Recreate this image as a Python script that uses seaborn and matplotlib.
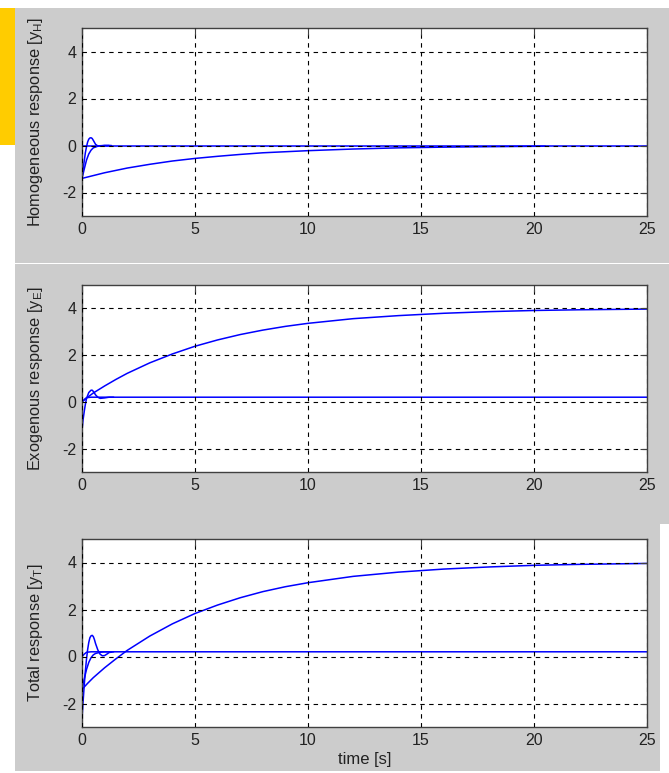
import matplotlib
matplotlib.use("Agg")
import matplotlib.pyplot as plt
from matplotlib.patches import Rectangle
import pandas as pd
import seaborn as sns

# homogeneous response curves
hom_fast_t = [0, 0.05, 0.1, 0.15, 0.2, 0.25, 0.3, 0.35, 0.4, 0.45, 0.5, 0.6, 0.7, 0.8, 1.0, 1.2]
hom_fast_y = [-1.4, -1.0, -0.65, -0.3, -0.05, 0.15, 0.27, 0.32, 0.33, 0.3, 0.22, 0.05, -0.02, -0.01, 0.0, 0.0]
hom_mid_t = [0, 0.1, 0.2, 0.3, 0.4, 0.5, 0.7, 1.0, 1.3]
hom_mid_y = [-1.4, -1.0, -0.62, -0.36, -0.2, -0.1, -0.03, 0.0, 0.0]
hom_slow_t = [0, 1, 2, 3, 4, 5, 6, 7, 8, 10, 12, 14, 16, 18, 20.5]
hom_slow_y = [-1.40, -1.16, -0.96, -0.80, -0.66, -0.55, -0.46, -0.38, -0.31, -0.22, -0.15, -0.10, -0.07, -0.05, -0.03]
hom_zero_t = [0, 25]
hom_zero_y = [0.0, 0.0]

# exogenous response curves
exo_flat_t = [0, 0.1, 0.2, 0.4, 25]
exo_flat_y = [0.0, 0.1, 0.18, 0.2, 0.2]
exo_fast_t = [0, 0.05, 0.1, 0.15, 0.2, 0.3, 0.4, 0.45, 0.5, 0.6, 0.7, 0.8, 1.0, 1.2, 1.4]
exo_fast_y = [-1.2, -0.75, -0.4, -0.1, 0.15, 0.4, 0.5, 0.5, 0.45, 0.3, 0.2, 0.15, 0.17, 0.2, 0.2]
exo_slow_t = [0, 0.25, 0.5, 1, 1.5, 2, 3, 4, 5, 6, 7, 8, 9, 10, 12, 14, 16, 18, 20, 22, 25]
exo_slow_y = [0.0, 0.2, 0.38, 0.68, 0.96, 1.22, 1.67, 2.05, 2.38, 2.65, 2.88, 3.07, 3.23, 3.36,
              3.56, 3.69, 3.79, 3.86, 3.91, 3.94, 3.97]

# total response curves
tot_fast_t = [0, 0.05, 0.1, 0.15, 0.2, 0.25, 0.3, 0.35, 0.4, 0.45, 0.5, 0.55, 0.6, 0.7, 0.8, 0.9, 1.0, 1.1, 1.2, 1.4]
tot_fast_y = [-2.65, -1.9, -1.2, -0.6, -0.1, 0.3, 0.6, 0.8, 0.88, 0.9, 0.85, 0.72, 0.55, 0.28, 0.1,
              0.03, 0.04, 0.1, 0.17, 0.2]
tot_mid_t = [0, 0.1, 0.2, 0.3, 0.4, 0.5, 0.6, 0.8, 1.0, 1.3]
tot_mid_y = [-1.4, -0.95, -0.55, -0.25, -0.05, 0.07, 0.13, 0.18, 0.2, 0.2]
tot_flat_t = [0, 0.1, 0.2, 0.4, 25]
tot_flat_y = [0.0, 0.1, 0.18, 0.2, 0.2]
tot_slow_t = [0, 0.25, 0.5, 1, 1.5, 2, 3, 4, 5, 6, 7, 8, 9, 10, 12, 14, 16, 18, 20, 22, 25]
tot_slow_y = [-1.4, -1.14, -0.90, -0.48, -0.10, 0.26, 0.87, 1.39, 1.83, 2.19, 2.50, 2.76, 2.97, 3.14,
              3.41, 3.59, 3.72, 3.81, 3.88, 3.92, 3.96]

x_ticks = [0, 5, 10, 15, 20, 25]
y_ticks = [-2, 0, 2, 4]
y_labels = [r"Homogeneous response [y$_\mathregular{H}$]",
            r"Exogenous response [y$_\mathregular{E}$]",
            r"Total response [y$_\mathregular{T}$]"]


def to_frame(curves):
    rows = []
    for i, (t, y) in enumerate(curves):
        for a, b in zip(t, y):
            rows.append({"t": a, "y": b, "curve": i})
    return pd.DataFrame(rows)


panels = [
    to_frame([(hom_zero_t, hom_zero_y), (hom_slow_t, hom_slow_y), (hom_mid_t, hom_mid_y), (hom_fast_t, hom_fast_y)]),
    to_frame([(exo_flat_t, exo_flat_y), (exo_slow_t, exo_slow_y), (exo_fast_t, exo_fast_y)]),
    to_frame([(tot_flat_t, tot_flat_y), (tot_slow_t, tot_slow_y), (tot_mid_t, tot_mid_y), (tot_fast_t, tot_fast_y)]),
]

sns.set_style("white")
plt.rcParams["font.family"] = ["Liberation Sans", "DejaVu Sans"]
plt.rcParams["font.size"] = 11
plt.rcParams["axes.unicode_minus"] = False

W, H = 669, 773
fig = plt.figure(figsize=(W / 100, H / 100), dpi=100)
fig.patch.set_facecolor("white")


def px_rect(x0, y0, x1, y1, color):
    fig.add_artist(Rectangle((x0 / W, 1 - y1 / H), (x1 - x0) / W, (y1 - y0) / H,
                             transform=fig.transFigure, facecolor=color, edgecolor="none", zorder=-10))


# gray window backgrounds and the yellow marker strip
px_rect(15, 8, 669, 263, "#cccccc")
px_rect(15, 264, 669, 524, "#cccccc")
px_rect(15, 524, 660, 771, "#cccccc")
px_rect(0, 8, 15, 145, "#ffcc00")

# axes boxes in pixels: (top, bottom)
boxes = [(28, 216), (285, 472), (539, 727)]
left, right = 82, 647

for i, (df, (top, bottom)) in enumerate(zip(panels, boxes)):
    ax = fig.add_axes([left / W, 1 - bottom / H, (right - left) / W, (bottom - top) / H])
    ax.set_facecolor("white")
    sns.lineplot(data=df, x="t", y="y", units="curve", estimator=None, sort=False,
                 color="#0000ff", linewidth=1.1, ax=ax, legend=False)
    ax.set_xlim(0, 25)
    ax.set_ylim(-3, 5)
    ax.set_xticks(x_ticks)
    ax.set_yticks(y_ticks)
    ax.grid(True, color="black", linestyle=(0, (4, 4)), linewidth=0.8)
    ax.set_axisbelow(False)
    for sp in ax.spines.values():
        sp.set_color("#404040")
        sp.set_linewidth(1.0)
        sp.set_visible(True)
    ax.tick_params(direction="in", top=True, right=True, length=5, width=0.8,
                   color="#404040", labelsize=11.5, labelcolor="#222222", pad=4)
    ax.set_ylabel(y_labels[i], fontsize=11.8, color="#222222")
    ax.yaxis.set_label_coords(-0.066, 0.5)
    if i == 2:
        ax.set_xlabel("time [s]", fontsize=12, color="#222222", labelpad=3)
    else:
        ax.set_xlabel("")

fig.savefig("out.png", dpi=100, facecolor=fig.get_facecolor())
